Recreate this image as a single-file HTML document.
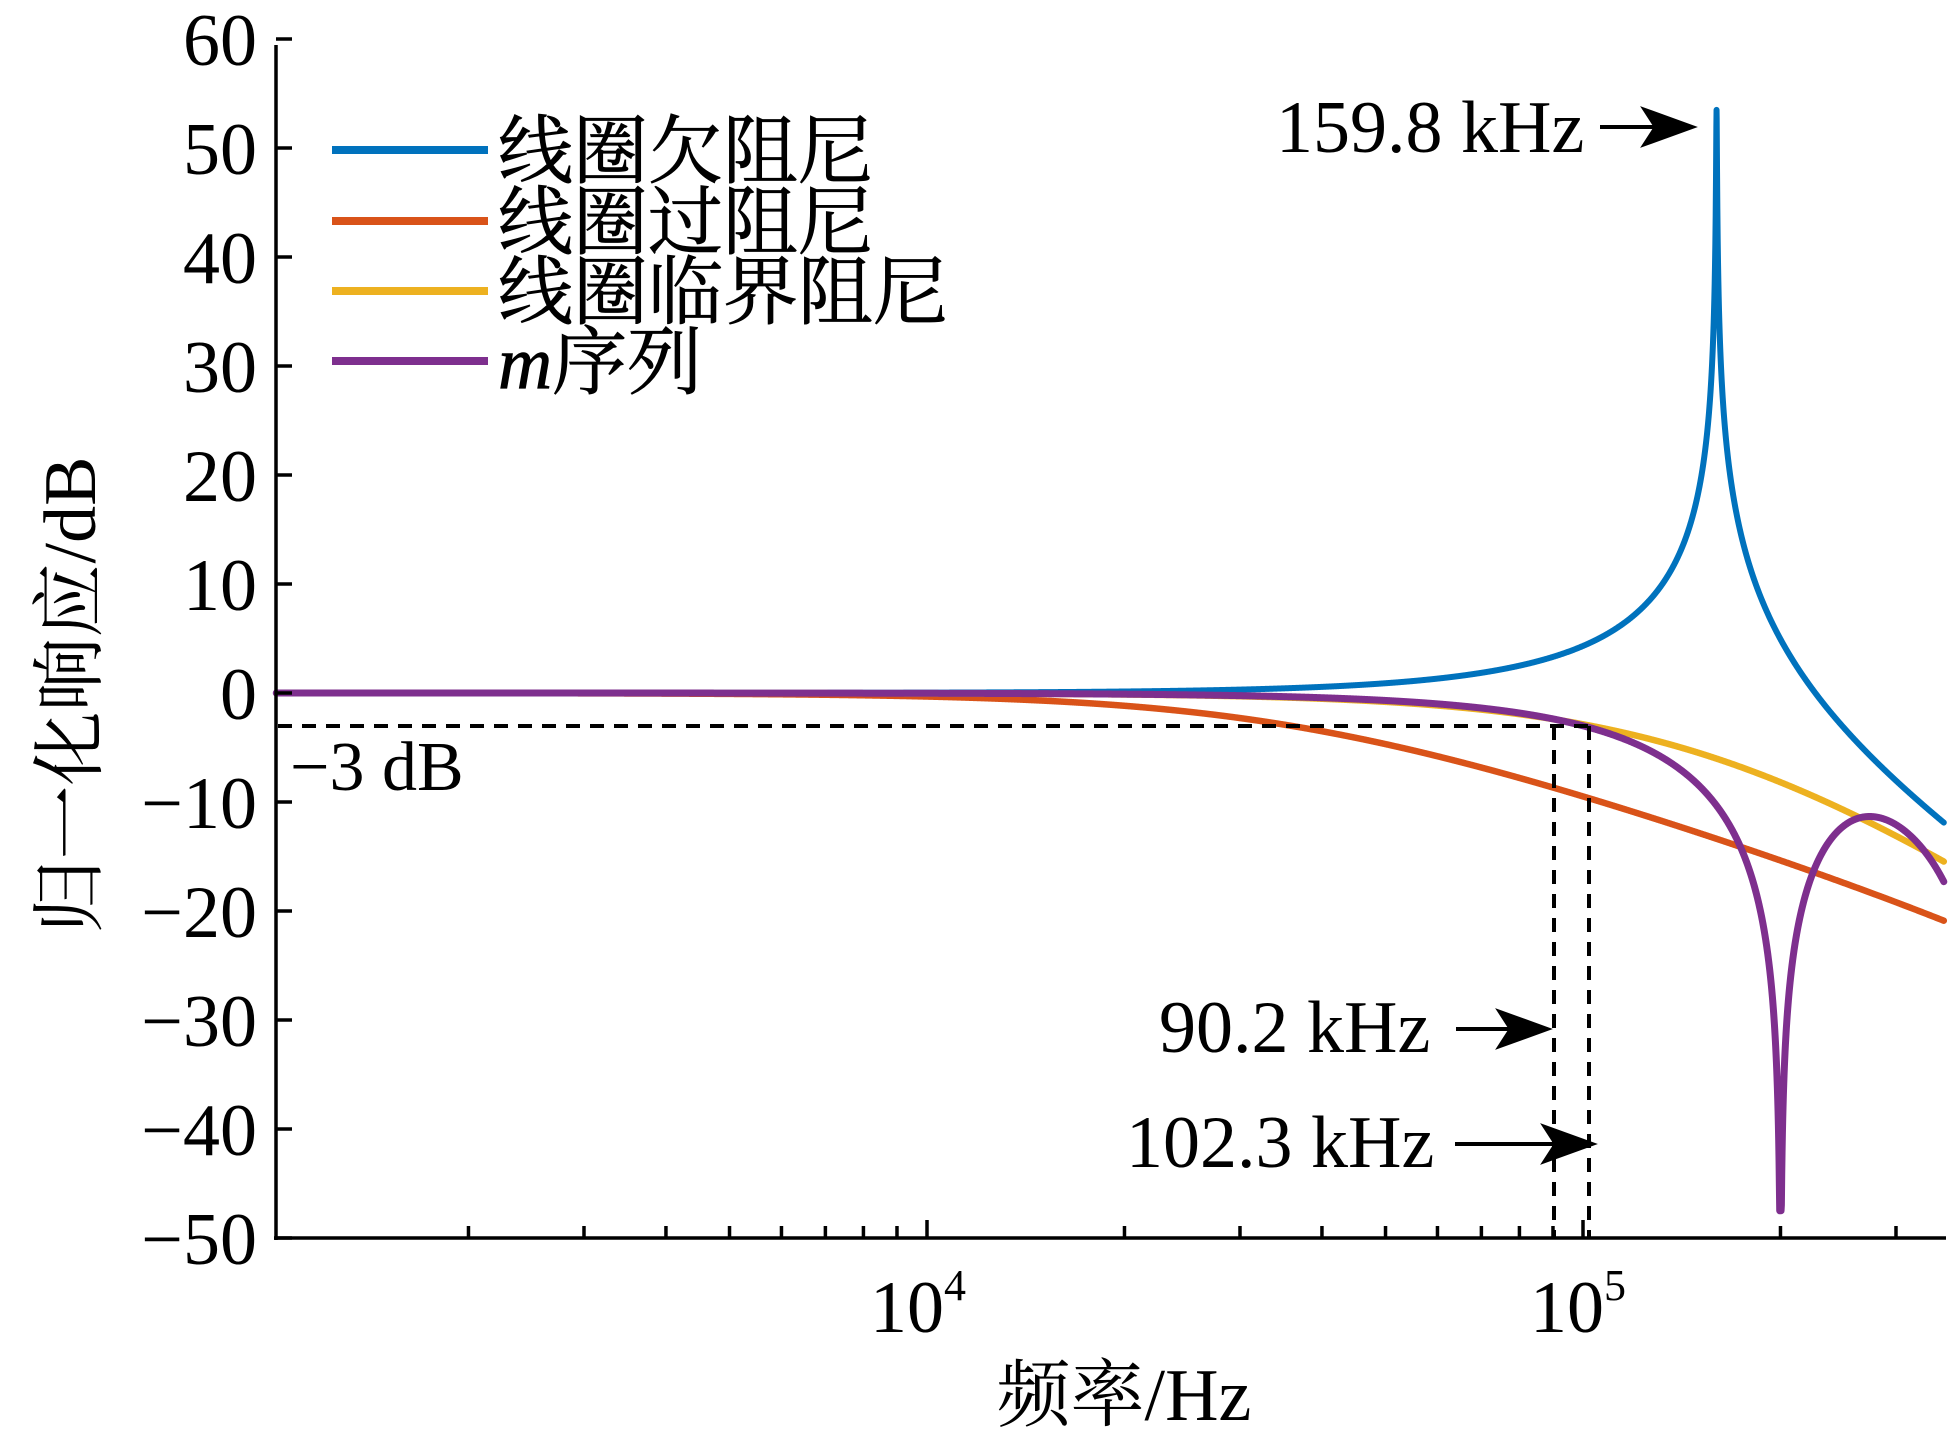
<!DOCTYPE html>
<html><head><meta charset="utf-8"><style>
html,body{margin:0;padding:0;background:#fff;}
svg{display:block;}
text{font-family:"Liberation Serif","Noto Serif CJK SC",serif;fill:#000;}
</style></head><body>
<svg id="s" width="1948" height="1448" viewBox="0 0 1948 1448" xmlns="http://www.w3.org/2000/svg">
<g id="curves" fill="none" stroke-linejoin="round" stroke-linecap="round"></g>
<g stroke="#000" stroke-width="4" fill="none" stroke-dasharray="14,10">
<line x1="278" y1="726" x2="1589" y2="726"/>
<line x1="1554" y1="726" x2="1554" y2="1238"/>
<line x1="1589" y1="726" x2="1589" y2="1238"/>
</g>
<g stroke="#000" stroke-width="3.5" fill="none" id="axes">
<line x1="276" y1="45" x2="276" y2="1240"/>
<line x1="274" y1="1238" x2="1946" y2="1238"/>
</g>
<g font-size="74" text-anchor="end" id="ylab"></g>
<text x="918" y="1332" font-size="74" text-anchor="middle">10<tspan font-size="44" dy="-32">4</tspan></text>
<text x="1578" y="1332" font-size="74" text-anchor="middle">10<tspan font-size="44" dy="-32">5</tspan></text>
<text x="1124" y="1420" font-size="74" text-anchor="middle">频率/Hz</text>
<text transform="translate(95,695) rotate(-90)" font-size="74" text-anchor="middle">归一化响应/dB</text>
<g stroke-width="8">
<line x1="332" y1="150" x2="488" y2="150" stroke="#0072BD"/>
<line x1="332" y1="221" x2="488" y2="221" stroke="#D95319"/>
<line x1="332" y1="291" x2="488" y2="291" stroke="#EDB120"/>
<line x1="332" y1="361" x2="488" y2="361" stroke="#7E2F8E"/>
</g>
<g font-size="75" stroke="#000" stroke-width="0.8">
<text x="498" y="177">线圈欠阻尼</text>
<text x="498" y="248">线圈过阻尼</text>
<text x="498" y="318">线圈临界阻尼</text>
<text x="498" y="388"><tspan font-style="italic">m</tspan>序列</text>
</g>
<text x="1276" y="152" font-size="74">159.8 kHz</text>
<text x="1159" y="1052" font-size="74">90.2 kHz</text>
<text x="1126" y="1167" font-size="74">102.3 kHz</text>
<text x="290" y="790" font-size="70">−3 dB</text>
<g stroke="#000" stroke-width="4" fill="#000">
<line x1="1600" y1="127" x2="1665" y2="127"/><polygon points="1692,127 1645,110 1656,127 1645,144"/>
<line x1="1456" y1="1029" x2="1520" y2="1029"/><polygon points="1547,1029 1500,1012 1511,1029 1500,1046"/>
<line x1="1455" y1="1144" x2="1565" y2="1144"/><polygon points="1592,1144 1545,1127 1556,1144 1545,1161"/>
</g>
</svg>
<script>
(function(){
var NS="http://www.w3.org/2000/svg";
function X(f){return 927+(Math.log10(f)-4)*656;}
function Y(d){return 693-d*10.9;}
var ax=document.getElementById('axes');
function ln(p,x1,y1,x2,y2){var l=document.createElementNS(NS,'line');l.setAttribute('x1',x1);l.setAttribute('y1',y1);l.setAttribute('x2',x2);l.setAttribute('y2',y2);p.appendChild(l);}
var yl=document.getElementById('ylab');
for(var d=60;d>=-50;d-=10){var y=Y(d);ln(ax,276,y,292,y);
 var t=document.createElementNS(NS,'text');t.setAttribute('x',257);t.setAttribute('y',y+26);t.textContent=(d<0?'−':'')+Math.abs(d);yl.appendChild(t);}
for(var e=3;e<=5;e++)for(var m=1;m<10;m++){var f=m*Math.pow(10,e);var x=X(f);if(x<280||x>1944)continue;ln(ax,x,1238,x,m==1?1220:1226);}
var fmin=Math.pow(10,3.008),fmax=Math.pow(10,5.55);
var f0=159.8e3,Q=473;
function mag(a){return Math.sqrt(a[0]*a[0]+a[1]*a[1]);}
function blue(f){var x=f/f0;return -20*Math.log10(mag([1-x*x,x/Q]));}
function orange(f){return -10*Math.log10(1+Math.pow(f/36e3,2))-10*Math.log10(1+Math.pow(f/709e3,2));}
function yellow(f){var x=f/f0;return -20*Math.log10(1+x*x);}
function purple(f){var n=(1-Math.pow(f/200e3,2))*(1-Math.pow(f/420e3,2));var v=20*Math.log10(Math.max(Math.abs(n),0.0042));
 v-=10*Math.log10(1+Math.pow(f/245e3,8));return Math.max(v,-47.5);}
var fs=[];var N=5000;for(var i=0;i<=N;i++){fs.push(fmin*Math.pow(fmax/fmin,i/N));}
fs.push(f0);fs.push(200e3);fs.sort(function(a,b){return a-b;});
var cv=document.getElementById('curves');
function draw(fn,col,w){var d='';for(var i=0;i<fs.length;i++){var v=fn(fs[i]);if(v>53.5)v=53.5;d+=(i?'L':'M')+X(fs[i]).toFixed(2)+','+Y(v).toFixed(2);}
 var p=document.createElementNS(NS,'path');p.setAttribute('d',d);p.setAttribute('stroke',col);p.setAttribute('stroke-width',w);cv.appendChild(p);}
draw(orange,'#D95319',6.5);draw(yellow,'#EDB120',6.5);draw(blue,'#0072BD',6);draw(purple,'#7E2F8E',7);
})();
</script>
</body></html>
